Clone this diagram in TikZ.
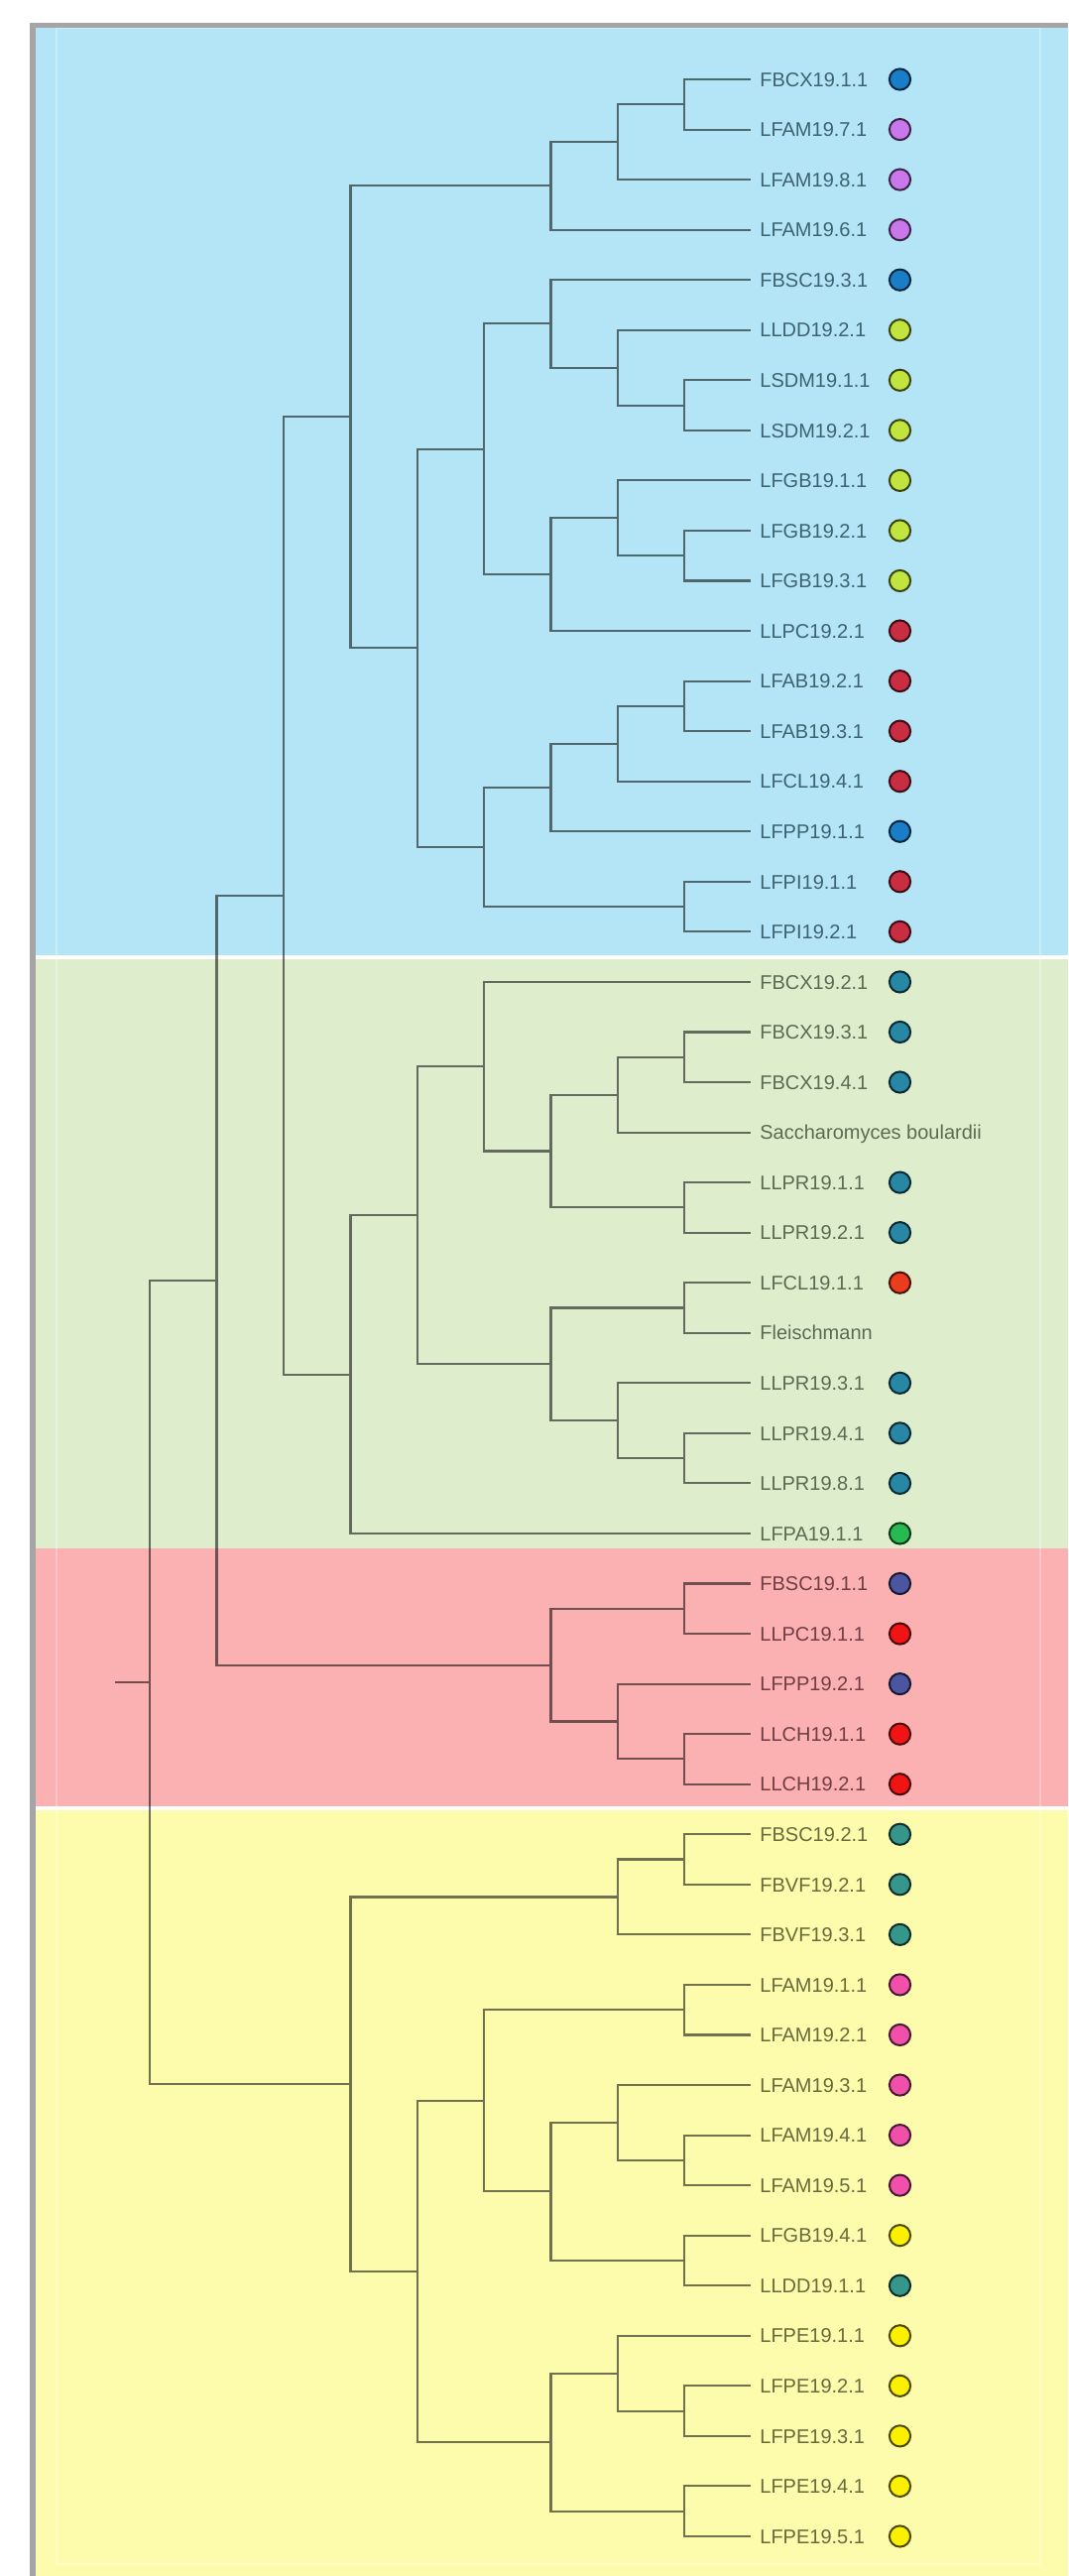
\documentclass[tikz,border=0pt]{standalone}
\usepackage{fontspec}
\setmainfont{Liberation Sans}
\definecolor{bandB}{RGB}{179,229,246}
\definecolor{bandG}{RGB}{222,238,205}
\definecolor{bandR}{RGB}{251,176,178}
\definecolor{bandY}{RGB}{252,252,172}
\definecolor{frameGray}{RGB}{165,165,165}
\definecolor{tB}{RGB}{62,98,112}
\definecolor{tG}{RGB}{92,106,82}
\definecolor{tR}{RGB}{112,62,68}
\definecolor{tY}{RGB}{106,106,60}
\definecolor{cBlu}{RGB}{25,125,200}
\definecolor{cPur}{RGB}{200,120,235}
\definecolor{cLim}{RGB}{194,228,62}
\definecolor{cMar}{RGB}{200,45,65}
\definecolor{cTea}{RGB}{40,135,165}
\definecolor{cOra}{RGB}{235,60,30}
\definecolor{cGrn}{RGB}{40,185,80}
\definecolor{cSla}{RGB}{75,85,160}
\definecolor{cRed}{RGB}{240,20,20}
\definecolor{cSea}{RGB}{55,150,140}
\definecolor{cPnk}{RGB}{240,80,170}
\definecolor{cYel}{RGB}{250,240,0}
\begin{document}
\begin{tikzpicture}[x=0.5pt,y=-0.5pt,
  treeline/.style={draw=black, draw opacity=0.55, line width=1.05pt},
  leaf/.style={anchor=west, inner xsep=4.5pt, inner ysep=0pt, text height=7.2pt, text depth=0pt, font=\fontsize{10pt}{12pt}\selectfont},
  dot/.style={circle, draw=#1!30!black, fill=#1, line width=1pt, minimum size=10.6pt, inner sep=0pt}]
\useasboundingbox (0,0) rectangle (1077,2597);
\fill[white] (0,0) rectangle (1077,2597);
% bands
\fill[bandB] (36,27) rectangle (1077,963);
\fill[bandG] (36,967) rectangle (1077,1561);
\fill[bandR] (36,1561) rectangle (1077,1820.5);
\fill[bandY] (36,1825) rectangle (1077,2597);
\draw[white, opacity=0.3, line width=0.6pt] (57,28) rectangle (1049,2585);
% outer frame
\fill[frameGray] (30,23) rectangle (1077,27.5);
\fill[frameGray] (30,23) rectangle (36,2597);
% leaves
\def\nodot{none}
\foreach \name/\col/\tc [count=\i from 0] in {
 FBCX19.1.1/cBlu/tB, LFAM19.7.1/cPur/tB, LFAM19.8.1/cPur/tB, LFAM19.6.1/cPur/tB,
 FBSC19.3.1/cBlu/tB, LLDD19.2.1/cLim/tB, LSDM19.1.1/cLim/tB, LSDM19.2.1/cLim/tB,
 LFGB19.1.1/cLim/tB, LFGB19.2.1/cLim/tB, LFGB19.3.1/cLim/tB, LLPC19.2.1/cMar/tB,
 LFAB19.2.1/cMar/tB, LFAB19.3.1/cMar/tB, LFCL19.4.1/cMar/tB, LFPP19.1.1/cBlu/tB,
 LFPI19.1.1/cMar/tB, LFPI19.2.1/cMar/tB,
 FBCX19.2.1/cTea/tG, FBCX19.3.1/cTea/tG, FBCX19.4.1/cTea/tG, Saccharomyces boulardii/none/tG,
 LLPR19.1.1/cTea/tG, LLPR19.2.1/cTea/tG, LFCL19.1.1/cOra/tG, Fleischmann/none/tG,
 LLPR19.3.1/cTea/tG, LLPR19.4.1/cTea/tG, LLPR19.8.1/cTea/tG, LFPA19.1.1/cGrn/tG,
 FBSC19.1.1/cSla/tR, LLPC19.1.1/cRed/tR, LFPP19.2.1/cSla/tR, LLCH19.1.1/cRed/tR, LLCH19.2.1/cRed/tR,
 FBSC19.2.1/cSea/tY, FBVF19.2.1/cSea/tY, FBVF19.3.1/cSea/tY, LFAM19.1.1/cPnk/tY,
 LFAM19.2.1/cPnk/tY, LFAM19.3.1/cPnk/tY, LFAM19.4.1/cPnk/tY, LFAM19.5.1/cPnk/tY,
 LFGB19.4.1/cYel/tY, LLDD19.1.1/cSea/tY, LFPE19.1.1/cYel/tY, LFPE19.2.1/cYel/tY,
 LFPE19.3.1/cYel/tY, LFPE19.4.1/cYel/tY, LFPE19.5.1/cYel/tY}{
  \node[leaf, text=\tc] (l\i) at (757,{80+50.55*\i}) {\name};
  \edef\tmp{\col}
  \ifx\tmp\nodot\else
    \node[dot=\col] (d\i) at (907.5,{80+50.55*\i}) {};
  \fi
}
% internal nodes (x = tree depth, y = midpoint of children)
\coordinate (n01) at (690,105.275);
\coordinate (n012) at (623,143.19);
\coordinate (A) at (555.5,187.42);
\coordinate (n67) at (690,408.575);
\coordinate (n567) at (623,370.66);
\coordinate (n4567) at (555.5,326.43);
\coordinate (n910) at (690,560.225);
\coordinate (n8910) at (623,522.31);
\coordinate (n811) at (555.5,579.18);
\coordinate (E) at (488,452.81);
\coordinate (n1213) at (690,711.875);
\coordinate (n1214) at (623,749.79);
\coordinate (n1215) at (555.5,794.02);
\coordinate (n1617) at (690,914.075);
\coordinate (G) at (488,854.05);
\coordinate (C) at (421,653.43);
\coordinate (B) at (353.5,420.43);
\coordinate (n1920) at (690,1065.725);
\coordinate (n1921) at (623,1103.64);
\coordinate (n2223) at (690,1217.375);
\coordinate (n1923) at (555.5,1160.51);
\coordinate (H) at (488,1075.2);
\coordinate (n2425) at (690,1318.475);
\coordinate (n2728) at (690,1470.125);
\coordinate (n2628) at (623,1432.21);
\coordinate (I) at (555.5,1375.34);
\coordinate (J) at (421,1225.27);
\coordinate (K) at (353.5,1385.61);
\coordinate (T7) at (286,903.02);
\coordinate (n3031) at (690,1621.775);
\coordinate (n3334) at (690,1773.425);
\coordinate (n3234) at (623,1735.51);
\coordinate (R) at (555.5,1678.64);
\coordinate (T8) at (218.5,1290.83);
\coordinate (n3536) at (690,1874.525);
\coordinate (n3537) at (623,1912.44);
\coordinate (n3839) at (690,2026.175);
\coordinate (n4142) at (690,2177.825);
\coordinate (n4042) at (623,2139.91);
\coordinate (n4344) at (690,2278.925);
\coordinate (n4044) at (555.5,2209.42);
\coordinate (n3844) at (488,2117.80);
\coordinate (n4647) at (690,2430.575);
\coordinate (n4547) at (623,2392.66);
\coordinate (n4849) at (690,2531.675);
\coordinate (n4549) at (555.5,2462.17);
\coordinate (n3849) at (421,2289.99);
\coordinate (Y) at (353.5,2101.21);
\coordinate (root) at (151,1696.02);
\coordinate (stub) at (116,1696.02);
% connectors (one path, so the translucent stroke never doubles)
\draw[treeline]
 (n01) |- (l0.west) (n01) |- (l1.west)
 (n012) |- (n01) (n012) |- (l2.west)
 (A) |- (n012) (A) |- (l3.west)
 (n67) |- (l6.west) (n67) |- (l7.west)
 (n567) |- (l5.west) (n567) |- (n67)
 (n4567) |- (l4.west) (n4567) |- (n567)
 (n910) |- (l9.west) (n910) |- (l10.west)
 (n8910) |- (l8.west) (n8910) |- (n910)
 (n811) |- (n8910) (n811) |- (l11.west)
 (E) |- (n4567) (E) |- (n811)
 (n1213) |- (l12.west) (n1213) |- (l13.west)
 (n1214) |- (n1213) (n1214) |- (l14.west)
 (n1215) |- (n1214) (n1215) |- (l15.west)
 (n1617) |- (l16.west) (n1617) |- (l17.west)
 (G) |- (n1215) (G) |- (n1617)
 (C) |- (E) (C) |- (G)
 (B) |- (A) (B) |- (C)
 (n1920) |- (l19.west) (n1920) |- (l20.west)
 (n1921) |- (n1920) (n1921) |- (l21.west)
 (n2223) |- (l22.west) (n2223) |- (l23.west)
 (n1923) |- (n1921) (n1923) |- (n2223)
 (H) |- (l18.west) (H) |- (n1923)
 (n2425) |- (l24.west) (n2425) |- (l25.west)
 (n2728) |- (l27.west) (n2728) |- (l28.west)
 (n2628) |- (l26.west) (n2628) |- (n2728)
 (I) |- (n2425) (I) |- (n2628)
 (J) |- (H) (J) |- (I)
 (K) |- (J) (K) |- (l29.west)
 (T7) |- (B) (T7) |- (K)
 (n3031) |- (l30.west) (n3031) |- (l31.west)
 (n3334) |- (l33.west) (n3334) |- (l34.west)
 (n3234) |- (l32.west) (n3234) |- (n3334)
 (R) |- (n3031) (R) |- (n3234)
 (T8) |- (T7) (T8) |- (R)
 (n3536) |- (l35.west) (n3536) |- (l36.west)
 (n3537) |- (n3536) (n3537) |- (l37.west)
 (n3839) |- (l38.west) (n3839) |- (l39.west)
 (n4142) |- (l41.west) (n4142) |- (l42.west)
 (n4042) |- (l40.west) (n4042) |- (n4142)
 (n4344) |- (l43.west) (n4344) |- (l44.west)
 (n4044) |- (n4042) (n4044) |- (n4344)
 (n3844) |- (n3839) (n3844) |- (n4044)
 (n4647) |- (l46.west) (n4647) |- (l47.west)
 (n4547) |- (l45.west) (n4547) |- (n4647)
 (n4849) |- (l48.west) (n4849) |- (l49.west)
 (n4549) |- (n4547) (n4549) |- (n4849)
 (n3849) |- (n3844) (n3849) |- (n4549)
 (Y) |- (n3537) (Y) |- (n3849)
 (root) |- (T8) (root) |- (Y)
 (stub) -- (root);
\end{tikzpicture}
\end{document}
